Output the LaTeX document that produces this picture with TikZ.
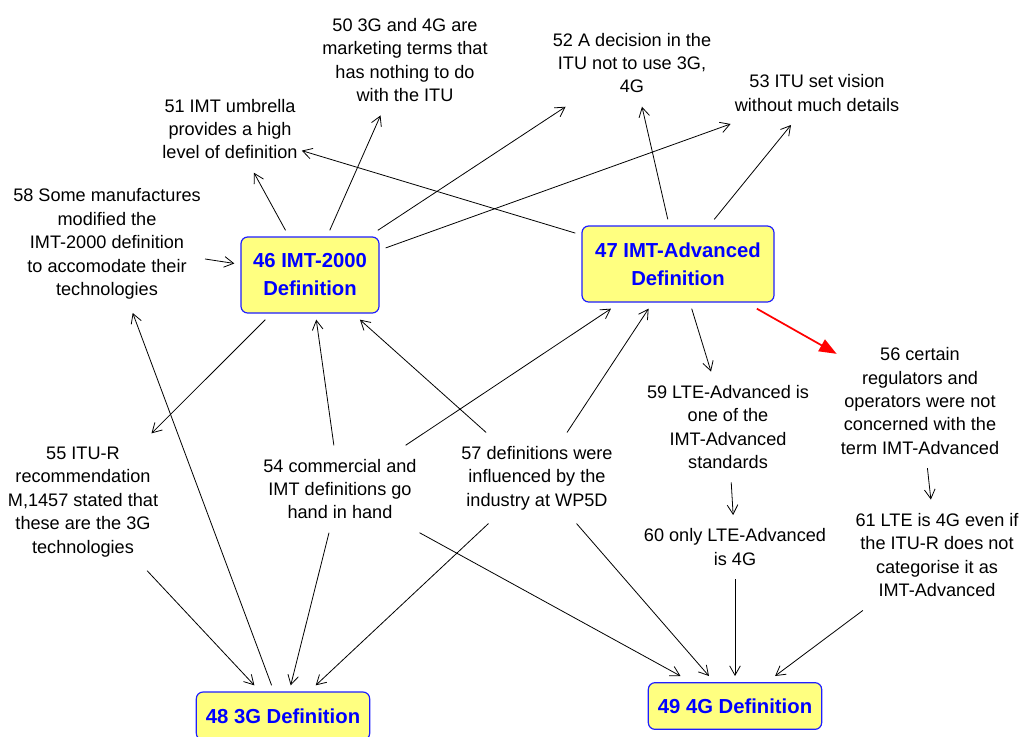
\documentclass[tikz,border=0pt]{standalone}
\usepackage{fontspec}
\setmainfont{Liberation Sans}
\usepackage{tikz}
\usetikzlibrary{arrows.meta}
\definecolor{boxyellow}{RGB}{255,255,128}
\definecolor{boxblue}{RGB}{30,30,255}

\begin{document}
\begin{tikzpicture}[x=0.75pt, y=-0.75pt,
    >={Straight Barb[length=7pt,width=8pt]},
    concept/.style={align=center, inner xsep=3pt, inner ysep=10pt, font=\fontsize{13.6}{17.6}\selectfont},
    defbox/.style={draw=boxblue, line width=0.9pt, fill=boxyellow, rounded corners=5pt, align=center, text=blue, outer sep=5pt, font=\fontsize{15.2}{21}\selectfont\bfseries},
    link/.style={->, line width=0.6pt}]
    \useasboundingbox (0,0) rectangle (1023,736);

    % Definitions
    \node[defbox, minimum width=103.5pt, minimum height=57pt] (imt) at (310,275) {46 IMT-2000\\Definition};
    \node[defbox, minimum width=144pt, minimum height=57pt] (imtadv) at (678,264) {47 IMT-Advanced\\Definition};
    \node[defbox, minimum width=130pt, minimum height=36pt] (g3) at (283,716) {48 3G Definition};
    \node[defbox, minimum width=130pt, minimum height=35pt] (g4) at (735,706) {49 4G Definition};

    % Concepts
    \node[concept] (mkt) at (405,60) {50 3G and 4G are\\marketing terms that\\has nothing to do\\with the ITU};
    \node[concept] (umbrella) at (230,129) {51 IMT umbrella\\provides a high\\level of definition};
    \node[concept] (decision) at (632,63) {52 A decision in the\\ITU not to use 3G,\\4G};
    \node[concept] (vision) at (817,93) {53 ITU set vision\\without much details};
    \node[concept] (commercial) at (340,489) {54 commercial and\\IMT definitions go\\hand in hand};
    \node[concept] (itur) at (83,502) {55 ITU-R\\recommendation\\M,1457 stated that\\these are the 3G\\technologies};
    \node[concept] (regulators) at (920,401) {56 certain\\regulators and\\operators were not\\concerned with the\\term IMT-Advanced};
    \node[concept] (industry) at (537,478) {57 definitions were\\influenced by the\\industry at WP5D};
    \node[concept] (manuf) at (107,244) {58 Some manufactures\\modified the\\IMT-2000 definition\\to accomodate their\\technologies};
    \node[concept] (lteadv) at (728,427) {59 LTE-Advanced is\\one of the\\IMT-Advanced\\standards};
    \node[concept] (onlylte) at (735,547) {60 only LTE-Advanced\\is 4G};
    \node[concept] (lte4g) at (937,555) {61 LTE is 4G even if\\the ITU-R does not\\categorise it as\\IMT-Advanced};

    % From IMT-2000
    \draw[link] (imt) -- (umbrella);
    \draw[link] (imt) -- (mkt);
    \draw[link] (imt) -- (decision);
    \draw[link] (imt) -- (vision);
    \draw[link] (imt) -- (itur);

    % From IMT-Advanced
    \draw[link] (imtadv) -- (umbrella);
    \draw[link] (imtadv) -- (decision);
    \draw[link] (imtadv) -- (vision);
    \draw[link] (imtadv) -- (lteadv);
    \draw[red, line width=1.3pt, -{Triangle[length=13pt,width=10pt]}] (imtadv) -- (regulators);

    % Into IMT-2000 and IMT-Advanced
    \draw[link] (manuf) -- (imt);
    \draw[link] (commercial) -- (imt);
    \draw[link] (industry) -- (imt);
    \draw[link] (commercial) -- (imtadv);
    \draw[link] (industry) -- (imtadv);

    % Into 3G
    \draw[link] (itur) -- (g3);
    \draw[link] (commercial) -- (g3);
    \draw[link] (industry) -- (g3);
    \draw[link] (g3) -- (manuf);

    % Into 4G
    \draw[link] (commercial) -- (g4);
    \draw[link] (industry) -- (g4);
    \draw[link] (onlylte) -- (g4);
    \draw[link] (lte4g) -- (g4);
    \draw[link] (lteadv) -- (onlylte);
    \draw[link] (regulators) -- (lte4g);
\end{tikzpicture}
\end{document}
